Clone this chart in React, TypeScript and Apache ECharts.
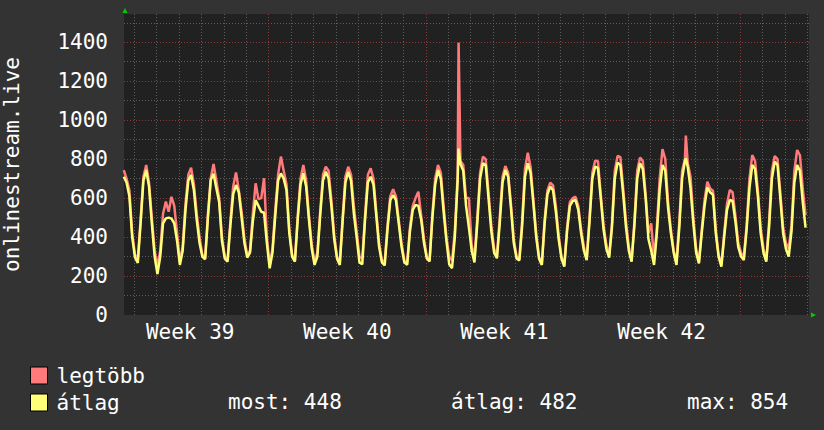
import React, { useEffect, useRef } from "react";
import * as echarts from "echarts";

// Sample hours within each day (day 0 = Monday of Week 39)
const sampleHours = [1, 4, 7, 10, 13, 16, 19, 22];

// "legtöbb" (maximum) per day, values at sampleHours
const maxByDay: (number | null)[][] = [
  [null, null, null, null, 744, 700, 640, 420],
  [310, 285, 490, 710, 770, 680, 500, 330],
  [250, 330, 520, 582, 530, 607, 560, 420],
  [274, 350, 570, 720, 756, 670, 520, 400],
  [310, 291, 520, 702, 775, 690, 600, 400],
  [300, 285, 480, 660, 732, 640, 530, 390],
  [310, 330, 520, 676, 595, 600, 702, 400],
  [257, 340, 540, 720, 813, 740, 670, 440],
  [310, 282, 510, 700, 770, 690, 510, 360],
  [274, 320, 530, 720, 761, 740, 590, 410],
  [300, 274, 500, 710, 761, 720, 560, 430],
  [300, 290, 510, 720, 753, 700, 530, 370],
  [280, 275, 460, 610, 645, 610, 490, 370],
  [280, 265, 450, 560, 600, 633, 510, 390],
  [300, 285, 520, 700, 770, 730, 560, 400],
  [300, 280, 430, 720, 790, 770, 600, 600],
  [360, 290, 500, 730, 813, 800, 630, 460],
  [340, 300, 500, 710, 765, 730, 570, 390],
  [300, 290, 490, 750, 833, 760, 590, 420],
  [300, 260, 490, 640, 679, 665, 560, 410],
  [300, 255, 450, 580, 600, 607, 560, 440],
  [350, 285, 500, 730, 792, 790, 620, 460],
  [360, 305, 470, 740, 816, 810, 650, 480],
  [350, 280, 480, 740, 808, 790, 620, 420],
  [470, 280, 450, 700, 851, 800, 580, 440],
  [330, 275, 480, 740, 800, 780, 710, 500],
  [340, 275, 440, 590, 684, 650, 638, 440],
  [310, 260, 420, 570, 642, 630, 510, 370],
  [320, 300, 460, 700, 821, 790, 640, 450],
  [340, 280, 480, 740, 816, 800, 630, 450],
  [370, 340, 460, 740, 847, 820, 650, 513],
];

// "átlag" (average) per day, values at sampleHours
const avgByDay: (number | null)[][] = [
  [null, null, null, null, 710, 680, 610, 400],
  [295, 268, 470, 690, 744, 660, 470, 300],
  [210, 300, 470, 496, 500, 495, 470, 380],
  [257, 330, 540, 690, 719, 640, 490, 370],
  [300, 286, 500, 693, 725, 650, 580, 380],
  [290, 274, 460, 620, 667, 630, 500, 370],
  [295, 320, 480, 590, 560, 530, 525, 370],
  [240, 320, 510, 690, 727, 700, 640, 420],
  [300, 274, 490, 670, 727, 660, 490, 340],
  [257, 300, 510, 690, 736, 700, 560, 390],
  [290, 257, 480, 680, 735, 690, 520, 400],
  [270, 260, 490, 680, 710, 670, 510, 350],
  [270, 255, 440, 590, 616, 590, 470, 350],
  [270, 257, 430, 540, 565, 560, 490, 370],
  [290, 275, 500, 670, 744, 700, 530, 380],
  [260, 240, 400, 690, 775, 740, 560, 450],
  [330, 270, 470, 700, 779, 770, 600, 430],
  [320, 291, 470, 680, 744, 710, 550, 370],
  [290, 280, 460, 710, 779, 730, 570, 400],
  [290, 257, 470, 620, 659, 640, 530, 390],
  [290, 248, 430, 560, 585, 590, 540, 420],
  [330, 282, 480, 700, 761, 755, 600, 440],
  [340, 295, 450, 700, 782, 770, 620, 450],
  [330, 274, 460, 700, 779, 750, 600, 390],
  [330, 257, 420, 640, 770, 740, 550, 420],
  [320, 257, 450, 700, 790, 760, 650, 470],
  [320, 265, 420, 560, 655, 630, 617, 420],
  [300, 248, 400, 540, 590, 585, 480, 350],
  [300, 282, 440, 650, 770, 750, 610, 420],
  [320, 274, 450, 700, 787, 770, 600, 420],
  [340, 300, 430, 680, 770, 740, 580, 448],
];

// Extra samples: [day, hour, legtöbb, átlag]
const extraSamples: number[][] = [
  [15, 11, 1398, 854],
  [25, 14, 921, 804],
];

const firstWeek = 39;
const weekLabelDays = [3.5, 10.5, 17.5, 24.5];
const xStart = 0.552;
const xEnd = 31.07;
const yMax = 1545;
const yLabelStep = 200;
const yGridStep = 100;

const legendNames = ["legtöbb", "átlag"];
const statNow = 448;
const statAvg = 482;
const statMax = 854;

const FONT = "'DejaVu Sans Mono', monospace";
const RED = "#ff7b7b";
const YEL = "#ffff78";
const GRID_MINOR = "#5e5e5e";
const GRID_MAJOR = "#8a3c3c";

function buildPoints(rows: (number | null)[][], idx: number) {
  const pts: number[][] = [];
  rows.forEach((row, day) =>
    row.forEach((v, i) => {
      if (v != null) pts.push([day + sampleHours[i] / 24, v]);
    })
  );
  extraSamples.forEach((s) => pts.push([s[0] + s[1] / 24, s[2 + idx]]));
  pts.sort((a, b) => a[0] - b[0]);
  return pts;
}

export default function App() {
  const ref = useRef<HTMLDivElement>(null);
  useEffect(() => {
    if (!ref.current) return;
    const chart = echarts.init(ref.current, null, { renderer: "svg" });

    const gridLines: any[] = [];
    for (let d = Math.ceil(xStart); d <= Math.floor(xEnd); d++) {
      gridLines.push({
        xAxis: d,
        lineStyle: { color: d % 7 === 0 ? GRID_MAJOR : GRID_MINOR, type: [1, 2], width: 1 },
      });
    }
    for (let v = yGridStep; v <= yMax; v += yGridStep) {
      gridLines.push({
        yAxis: v,
        lineStyle: { color: v % yLabelStep === 0 ? GRID_MAJOR : GRID_MINOR, type: [1, 2], width: 1 },
      });
    }

    const option: any = {
      animation: false,
      backgroundColor: "#333333",
      grid: {
        left: 124,
        right: 15,
        top: 14,
        bottom: 115,
        show: true,
        backgroundColor: "#212121",
        borderWidth: 0,
        containLabel: false,
        outerBoundsMode: "none",
      },
      xAxis: {
        type: "value",
        min: xStart,
        max: xEnd,
        splitLine: { show: false },
        axisLine: { show: false },
        axisTick: { show: false },
        axisLabel: {
          customValues: weekLabelDays,
          formatter: (v: number) => "Week " + (firstWeek + Math.floor(v / 7)),
          color: "#ffffff",
          fontFamily: FONT,
          fontSize: 21,
          margin: 6,
        },
      },
      yAxis: {
        type: "value",
        min: 0,
        max: yMax,
        interval: yLabelStep,
        name: "onlinestream.live",
        nameLocation: "middle",
        nameGap: 102,
        nameTextStyle: { color: "#ffffff", fontFamily: FONT, fontSize: 21 },
        splitLine: { show: false },
        axisLine: { show: false },
        axisTick: { show: false },
        axisLabel: {
          color: "#ffffff",
          fontFamily: FONT,
          fontSize: 21,
          margin: 16,
          formatter: (v: number) => (v % yLabelStep === 0 ? String(v) : ""),
        },
      },
      legend: [
        {
          data: [legendNames[0]],
          left: 30,
          top: 365,
          padding: 0,
          icon: "rect",
          itemWidth: 17,
          itemHeight: 17,
          itemStyle: { borderColor: "#000000", borderWidth: 1 },
          textStyle: { color: "#ffffff", fontFamily: FONT, fontSize: 21, lineHeight: 17, padding: [0, 0, 0, 4] },
          selectedMode: false,
        },
        {
          data: [legendNames[1]],
          left: 30,
          top: 392,
          padding: 0,
          icon: "rect",
          itemWidth: 17,
          itemHeight: 17,
          itemStyle: { borderColor: "#000000", borderWidth: 1 },
          textStyle: { color: "#ffffff", fontFamily: FONT, fontSize: 21, lineHeight: 17, padding: [0, 0, 0, 4] },
          selectedMode: false,
        },
      ],
      graphic: [
        { type: "text", left: 228, top: 391, style: { text: "most: " + statNow, fill: "#ffffff", font: "21px " + FONT } },
        { type: "text", left: 451, top: 391, style: { text: "átlag: " + statAvg, fill: "#ffffff", font: "21px " + FONT } },
        { type: "text", left: 687, top: 391, style: { text: "max: " + statMax, fill: "#ffffff", font: "21px " + FONT } },
        { type: "polygon", shape: { points: [[122.5, 13], [127.5, 13], [125, 8]] }, style: { fill: "#00cc00" } },
        { type: "polygon", shape: { points: [[811, 312.5], [811, 317.5], [816, 315]] }, style: { fill: "#00cc00" } },
      ],
      series: [
        {
          name: legendNames[0],
          type: "line",
          data: buildPoints(maxByDay, 0),
          showSymbol: false,
          color: RED,
          lineStyle: { color: RED, width: 2.5 },
          z: 3,
          markLine: {
            silent: true,
            z: 1,
            symbol: ["none", "none"],
            label: { show: false },
            emphasis: { disabled: true },
            data: gridLines,
          },
        },
        {
          name: legendNames[1],
          type: "line",
          data: buildPoints(avgByDay, 1),
          showSymbol: false,
          color: YEL,
          lineStyle: { color: YEL, width: 2.5 },
          z: 4,
        },
      ],
    };
    chart.setOption(option);
    return () => chart.dispose();
  }, []);
  return (
    <div
      ref={ref}
      style={{ position: "fixed", left: 0, top: 0, width: 824, height: 430 }}
    />
  );
}
